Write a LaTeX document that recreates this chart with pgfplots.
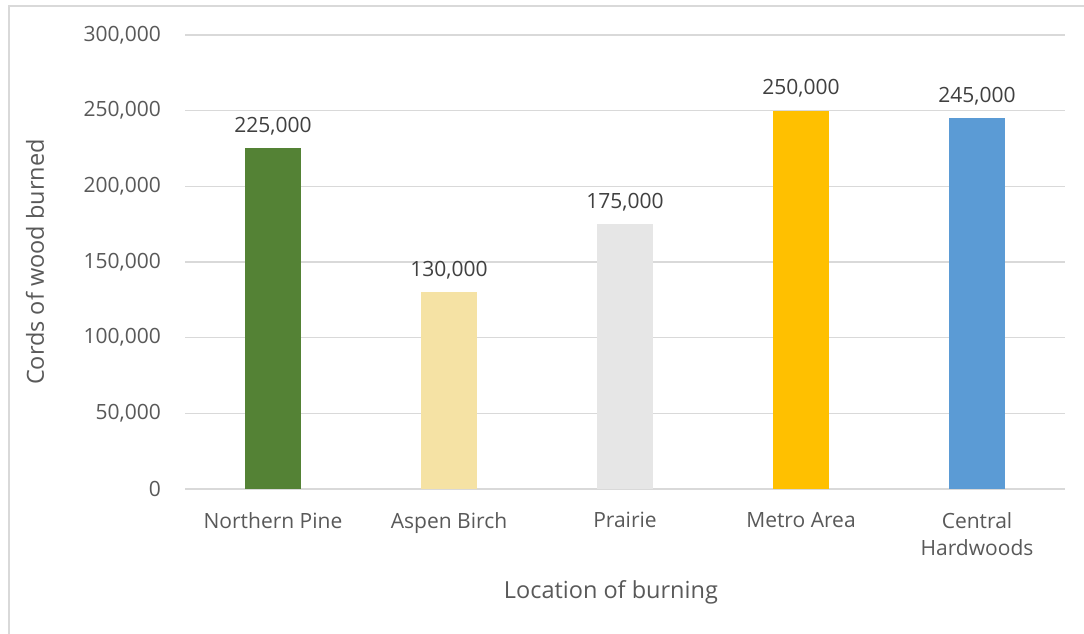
\documentclass[border=0pt]{standalone}
\usepackage{pgfplots}
\pgfplotsset{compat=1.18}
\usepackage{fontspec}
\setmainfont{Open Sans}
\definecolor{gridc}{HTML}{D9D9D9}
\definecolor{txt}{HTML}{595959}
\definecolor{vtxt}{HTML}{404040}
\definecolor{cA}{HTML}{548235}
\definecolor{cB}{HTML}{F5E2A4}
\definecolor{cC}{HTML}{E6E6E6}
\definecolor{cD}{HTML}{FFC000}
\definecolor{cE}{HTML}{5B9BD5}
\newcommand{\chartfont}{\fontsize{21}{27}\selectfont}
\newcommand{\labelfont}{\fontsize{23.5}{28}\selectfont}
\begin{document}
\begin{tikzpicture}
\useasboundingbox (0,0) rectangle (1084pt,634pt);
\fill[white] (0,0) rectangle (1084pt,634pt);
\draw[gridc, line width=1.5pt] (9pt,-20pt) rectangle (1100pt,628pt);
\begin{axis}[
  at={(185pt,145pt)}, anchor=south west,
  scale only axis, width=880pt, height=454pt,
  xmin=-0.5, xmax=4.5, ymin=0, ymax=300000,
  ytick={0,50000,100000,150000,200000,250000,300000},
  xtick={0,1,2,3,4},
  xticklabels={Northern Pine, Aspen Birch, Prairie, Metro Area, {Central\\Hardwoods}},
  axis line style={draw=none},
  ymajorgrids, grid style={gridc, line width=1.2pt},
  major tick length=0pt,
  tick label style={font=\chartfont, text=txt},
  yticklabel style={anchor=east, inner sep=0pt, xshift=-24pt},
  xticklabel style={anchor=north, inner sep=0pt, yshift=-23pt, align=center},
  /pgf/number format/.cd, fixed, 1000 sep={,}, assume math mode=true,
  /pgfplots/.cd,
  scaled y ticks=false,
  ylabel={Cords of wood burned},
  xlabel={Location of burning},
  every axis y label/.style={at={(axis description cs:-0.1705,0.5)}, rotate=90, anchor=center, font=\labelfont, text=txt},
  every axis x label/.style={at={(axis description cs:0.484,-0.227)}, anchor=center, font=\labelfont, text=txt},
  ybar, bar width=56pt, bar shift=0pt,
  nodes near coords,
  every node near coord/.append style={font=\chartfont, text=vtxt, anchor=base, yshift=16pt},
  clip=false,
]
\addplot[fill=cA, draw=none] coordinates {(0,225000)};
\addplot[fill=cB, draw=none] coordinates {(1,130000)};
\addplot[fill=cC, draw=none] coordinates {(2,175000)};
\addplot[fill=cD, draw=none] coordinates {(3,250000)};
\addplot[fill=cE, draw=none] coordinates {(4,245000)};
\end{axis}
\end{tikzpicture}
\end{document}
